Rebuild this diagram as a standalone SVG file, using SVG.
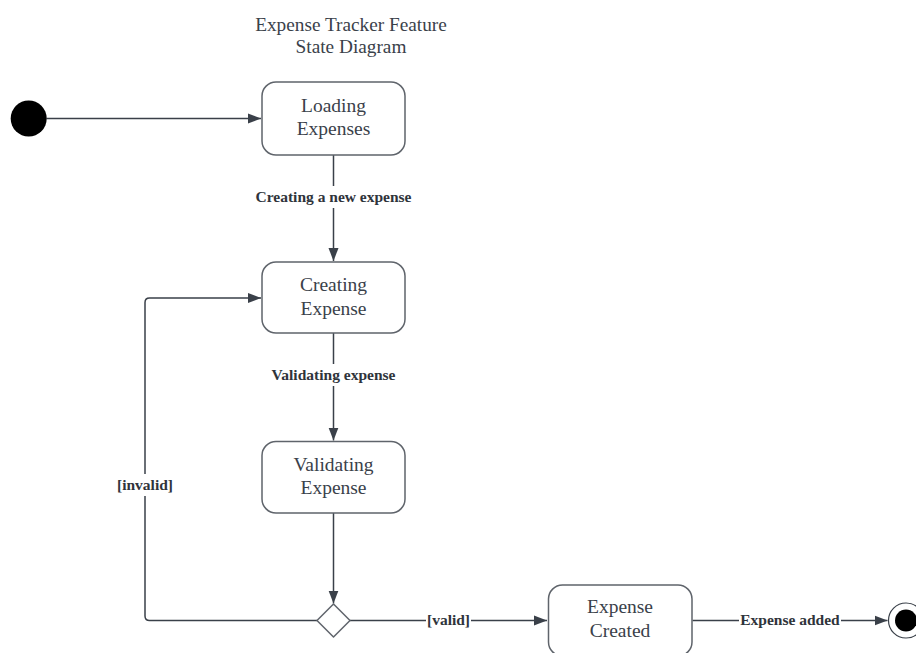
<svg xmlns="http://www.w3.org/2000/svg" width="916" height="653" viewBox="0 0 916 653">
<style>
.state{fill:#ffffff;stroke:#5f646b;stroke-width:1.5}
.ntext{font-family:"Liberation Serif","Times New Roman",serif;font-size:19.5px;fill:#3a414a;text-anchor:middle}
.title{font-family:"Liberation Serif","Times New Roman",serif;font-size:19.3px;fill:#3a414a;text-anchor:middle}
.lbl{font-family:"Liberation Serif","Times New Roman",serif;font-size:15.5px;font-weight:bold;fill:#2f343b;text-anchor:middle}
.edge{fill:none;stroke:#3a4049;stroke-width:1.5}
.lblbg{fill:#ffffff}
</style>
<defs>
<marker id="arr" markerUnits="userSpaceOnUse" markerWidth="14" markerHeight="12" viewBox="0 0 14 12" refX="13" refY="6" orient="auto">
<path d="M0,1 L13,6 L0,11 Z" fill="#3a4049"/>
</marker>
</defs>
<rect width="916" height="653" fill="#ffffff"/>
<g id="title">
<text class="title" x="351" y="30.7">Expense Tracker Feature</text>
<text class="title" x="351" y="53.3">State Diagram</text>
</g>
<g id="connectors">
<path class="edge" d="M46.5,118.5 H261" marker-end="url(#arr)"/>
<path class="edge" d="M333.5,155 V261" marker-end="url(#arr)"/>
<path class="edge" d="M333.5,333 V440.5" marker-end="url(#arr)"/>
<path class="edge" d="M333.5,513 V603.5" marker-end="url(#arr)"/>
<path class="edge" d="M317,620.5 H149.5 Q145,620.5 145,616 V302.5 Q145,298 149.5,298 H261" marker-end="url(#arr)"/>
<path class="edge" d="M350,620.5 H547" marker-end="url(#arr)"/>
<path class="edge" d="M692.5,620.5 H887.5" marker-end="url(#arr)"/>
<g id="label-creating">
<rect class="lblbg" x="252" y="186" width="163" height="22"/>
<text class="lbl" x="333.5" y="202">Creating a new expense</text>
</g>
<g id="label-validating">
<rect class="lblbg" x="268" y="364" width="131" height="22"/>
<text class="lbl" x="333.5" y="380">Validating expense</text>
</g>
<g id="label-invalid">
<rect class="lblbg" x="115" y="474" width="60" height="22"/>
<text class="lbl" x="145" y="490">[invalid]</text>
</g>
<g id="label-valid">
<rect class="lblbg" x="426" y="609" width="45" height="22"/>
<text class="lbl" x="448.5" y="625">[valid]</text>
</g>
<g id="label-added">
<rect class="lblbg" x="739" y="609" width="102" height="22"/>
<text class="lbl" x="790" y="625">Expense added</text>
</g>
</g>
<g id="initial">
<circle cx="28.7" cy="118.5" r="18" fill="#000000"/>
</g>
<g id="loading-expenses">
<rect class="state" x="262" y="82" width="143" height="73" rx="14"/>
<text class="ntext" x="333.5" y="111.7">Loading</text>
<text class="ntext" x="333.5" y="135">Expenses</text>
</g>
<g id="creating-expense">
<rect class="state" x="262" y="262" width="143" height="71" rx="14"/>
<text class="ntext" x="333.5" y="290.7">Creating</text>
<text class="ntext" x="333.5" y="315">Expense</text>
</g>
<g id="validating-expense">
<rect class="state" x="262" y="441.5" width="143" height="71.5" rx="14"/>
<text class="ntext" x="333.5" y="470.7">Validating</text>
<text class="ntext" x="333.5" y="494.3">Expense</text>
</g>
<g id="decision">
<path class="state" d="M333.5,604 L350,620.5 L333.5,637 L317,620.5 Z" stroke-linejoin="round"/>
</g>
<g id="expense-created">
<rect class="state" x="548.5" y="585" width="143.5" height="71" rx="14"/>
<text class="ntext" x="620" y="613.3">Expense</text>
<text class="ntext" x="620" y="636.7">Created</text>
</g>
<g id="final">
<circle cx="906" cy="620.5" r="17.5" fill="#ffffff" stroke="#3a4049" stroke-width="1.2"/>
<circle cx="906" cy="620.5" r="11" fill="#000000"/>
</g>
</svg>
